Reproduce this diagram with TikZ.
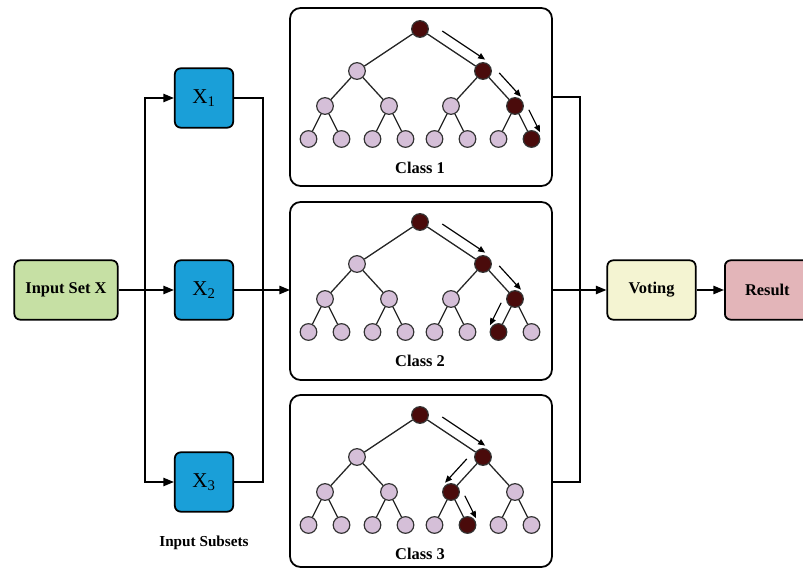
\documentclass[tikz,border=0pt]{standalone}
\usepackage{fontspec}
\setmainfont{Liberation Serif}
\usetikzlibrary{arrows.meta,calc}

\definecolor{inputgreen}{HTML}{C6E0A4}
\definecolor{subsetblue}{HTML}{1A9FD8}
\definecolor{voteyellow}{HTML}{F4F4D2}
\definecolor{resultpink}{HTML}{E3B5B9}
\definecolor{leaflilac}{HTML}{D5BFD8}
\definecolor{pathred}{HTML}{4A0B0B}

\tikzset{
  box/.style={draw=black, line width=1.5pt, rounded corners=5pt, align=center,
    font=\bfseries\fontsize{14}{16}\selectfont},
  subset/.style={box, fill=subsetblue, minimum width=1.75cm, minimum height=1.78cm,
    font=\fontsize{18}{20}\selectfont},
  classbox/.style={draw=black, line width=1.5pt, rounded corners=9pt},
  vertex/.style={circle, draw=black!80, line width=1pt, fill=leaflilac,
    minimum size=0.5cm, inner sep=0pt},
  hot/.style={vertex, fill=pathred},
  flow/.style={line width=1.5pt, -{Triangle[length=9pt,width=7pt]}},
  link/.style={line width=1.5pt},
  branch/.style={line width=1.1pt, black!85},
  walk/.style={line width=1pt, -{Triangle[length=6pt,width=5pt]}},
  label/.style={font=\bfseries\fontsize{14}{16}\selectfont}
}

\begin{document}
\begin{tikzpicture}[x=0.03cm,y=-0.03cm]
  \useasboundingbox (0,0) rectangle (803,570);

  % input and subsets
  \node[box, fill=inputgreen, minimum width=3.1cm, minimum height=1.78cm] (input) at (66,290) {Input Set X};
  \node[subset] (x1) at (204,98) {X\textsubscript{1}};
  \node[subset] (x2) at (204,290) {X\textsubscript{2}};
  \node[subset] (x3) at (204,482) {X\textsubscript{3}};
  \node[font=\bfseries\fontsize{13}{15}\selectfont] (subsets) at (204,543) {Input Subsets};

  % class boxes
  \draw[classbox] (290,8) rectangle (552,186);
  \draw[classbox] (290,202) rectangle (552,380);
  \draw[classbox] (290,395) rectangle (552,567);
  \coordinate (c1) at (552,97);
  \coordinate (c2in) at (290,290);
  \coordinate (c2) at (552,290);
  \coordinate (c3) at (552,482);

  % voting and result
  \node[box, fill=voteyellow, minimum width=2.65cm, minimum height=1.78cm] (vote) at (651.5,290) {Voting};
  \node[box, fill=resultpink, minimum width=2.55cm, minimum height=1.78cm, anchor=west] (res) at (724,290) {Result};

  % connectors
  \coordinate (split) at (145,290);
  \coordinate (join) at (263,290);
  \coordinate (merge) at (580,290);
  \draw[flow] (input) -- (x2);
  \draw[flow] (split) |- (x1);
  \draw[flow] (split) |- (x3);
  \draw[link] (x1) -| (join);
  \draw[link] (x3) -| (join);
  \draw[flow] (x2) -- (c2in);
  \draw[link] (c1) -| (merge);
  \draw[link] (c3) -| (merge);
  \draw[flow] (c2) -- (vote);
  \draw[flow] (vote) -- (res);

  % trees
  \foreach \k/\yr/\ha/\hb in {1/29/7/15, 2/222/7/14, 3/415/6/13} {
    \foreach \i/\x/\dy in {1/420/0, 2/357/42, 3/483/42, 4/325/77, 5/389/77, 6/451/77, 7/515/77,
        8/308.5/110, 9/341.5/110, 10/372.5/110, 11/405.5/110, 12/434.5/110, 13/467.5/110,
        14/498.5/110, 15/531.5/110} {
      \pgfmathtruncatemacro{\ishot}{(\i==1)||(\i==3)||(\i==\ha)||(\i==\hb)}
      \ifnum\ishot=1 \tikzset{look/.style={hot}}\else\tikzset{look/.style={vertex}}\fi
      \node[look] (c\k n\i) at (\x,\yr+\dy) {};
    }
    \foreach \i in {2,...,15} {
      \pgfmathtruncatemacro{\p}{\i/2}
      \draw[branch] (c\k n\p) -- (c\k n\i);
    }
    \node[label] (class\k) at (420,\yr+139) {Class \k};
  }

  % decision paths
  \foreach \k/\a/\b/\s in {1/1/3/90, 1/3/7/90, 1/7/15/90, 2/1/3/90, 2/3/7/90, 2/7/14/-90,
      3/1/3/90, 3/3/6/-90, 3/6/13/90}
    \draw[walk] ($(c\k n\a)!0.26!(c\k n\b)!0.32cm!\s:(c\k n\b)$)
             -- ($(c\k n\a)!0.94!(c\k n\b)!0.32cm!\s:(c\k n\b)$);
\end{tikzpicture}
\end{document}
